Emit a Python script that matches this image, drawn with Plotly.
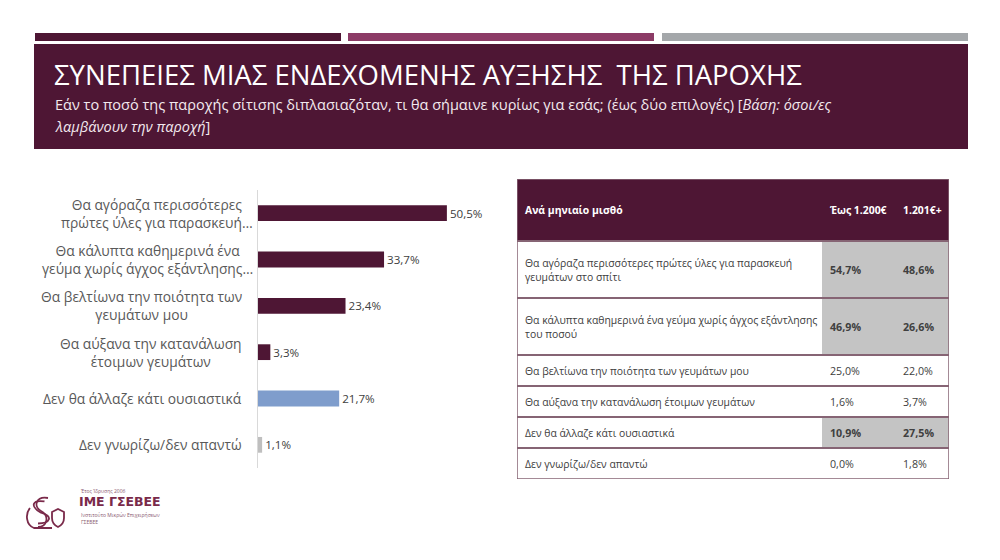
import plotly.graph_objects as go

# bar chart data
categories = [
    "Θα αγόραζα περισσότερες<br>πρώτες ύλες για παρασκευή…",
    "Θα κάλυπτα καθημερινά ένα<br>γεύμα χωρίς άγχος εξάντλησης…",
    "Θα βελτίωνα την ποιότητα των<br>γευμάτων μου",
    "Θα αύξανα την κατανάλωση<br>έτοιμων γευμάτων",
    "Δεν θα άλλαζε κάτι ουσιαστικά",
    "Δεν γνωρίζω/δεν απαντώ",
]
values = [50.5, 33.7, 23.4, 3.3, 21.7, 1.1]
bar_colors = ["#4e1634", "#4e1634", "#4e1634", "#4e1634", "#7f9dcc", "#bfbfbf"]

# table data
table_title = "Ανά μηνιαίο μισθό"
table_cols = ["Έως 1.200€", "1.201€+"]
table_rows = [
    "Θα αγόραζα περισσότερες πρώτες ύλες για παρασκευή<br>γευμάτων στο σπίτι",
    "Θα κάλυπτα καθημερινά ένα γεύμα χωρίς άγχος εξάντλησης<br>του ποσού",
    "Θα βελτίωνα την ποιότητα των γευμάτων μου",
    "Θα αύξανα την κατανάλωση έτοιμων γευμάτων",
    "Δεν θα άλλαζε κάτι ουσιαστικά",
    "Δεν γνωρίζω/δεν απαντώ",
]
upto_1200 = [54.7, 46.9, 25.0, 1.6, 10.9, 0.0]
over_1200 = [48.6, 26.6, 22.0, 3.7, 27.5, 1.8]
highlight = [True, True, False, False, True, False]

title = "ΣΥΝΕΠΕΙΕΣ ΜΙΑΣ ΕΝΔΕΧΟΜΕΝΗΣ ΑΥΞΗΣΗΣ  ΤΗΣ ΠΑΡΟΧΗΣ"
subtitle_lines = [
    "Εάν το ποσό της παροχής σίτισης διπλασιαζόταν, τι θα σήμαινε κυρίως για εσάς; "
    "(έως δύο επιλογές) [<i>Βάση: όσοι/ες</i>",
    "<i>λαμβάνουν την παροχή</i>]",
]

MAROON = "#4e1634"
LOGO = "#7a2a4a"
FONT = "Open Sans"
W, H = 1000, 560


def px(x):
    return x / W


def py(y):
    return 1 - y / H


def fmt(v):
    return f"{v:.1f}".replace(".", ",") + "%"


fig = go.Figure()

fig.add_trace(go.Bar(
    x=values, y=categories, orientation="h",
    marker=dict(color=bar_colors, line=dict(width=0)),
    width=0.34,
    texttemplate="%{x:.1f}%", textposition="outside",
    textfont=dict(family=FONT, size=14, color="#404040"),
    cliponaxis=False, hoverinfo="skip", showlegend=False,
))

# category labels, centred lines like the original text boxes
for cat in categories:
    fig.add_annotation(
        x=0, y=cat, xref="x", yref="y", text=cat, showarrow=False,
        xanchor="right", align="center", xshift=-3 if "…" in cat else -14,
        font=dict(family=FONT, size=13.8, color="#595959"),
    )

# ---- table drawn on its own axes (pixel-like units) ----
header_h = 62
line_h = {1: 31, 2: 57}
row_h = [line_h[r.count("<br>") + 1] for r in table_rows]
col_edges = [0, 305, 378, 432]
total_h = header_h + sum(row_h)
BORDER = "#866474"
TFONT = 10.4

shapes = []
shapes.append(dict(type="rect", xref="x2", yref="y2", x0=col_edges[0], x1=col_edges[-1],
                   y0=0, y1=header_h, fillcolor=MAROON, line=dict(width=0), layer="below"))
fig.add_annotation(x=col_edges[0] + 6, y=header_h / 2, xref="x2", yref="y2", text="<b>" + table_title + "</b>",
                   showarrow=False, xanchor="left", font=dict(family=FONT, size=TFONT, color="white"))
for j, c in enumerate(table_cols):
    fig.add_annotation(x=col_edges[j + 1] + 6, y=header_h / 2, xref="x2", yref="y2", text="<b>" + c + "</b>",
                       showarrow=False, xanchor="left", font=dict(family=FONT, size=TFONT, color="white"))

top = header_h
for i, lab in enumerate(table_rows):
    bot = top + row_h[i]
    mid = (top + bot) / 2
    if highlight[i]:
        shapes.append(dict(type="rect", xref="x2", yref="y2", x0=col_edges[1], x1=col_edges[3],
                           y0=top, y1=bot, fillcolor="#c4c4c4", line=dict(width=0), layer="below"))
    fig.add_annotation(x=col_edges[0] + 6, y=mid, xref="x2", yref="y2", text=lab, showarrow=False,
                       xanchor="left", align="left", font=dict(family=FONT, size=TFONT, color="#404040"))
    for j, v in enumerate([upto_1200[i], over_1200[i]]):
        t = fmt(v)
        if highlight[i]:
            t = "<b>" + t + "</b>"
        fig.add_annotation(x=col_edges[j + 1] + 6, y=mid, xref="x2", yref="y2", text=t, showarrow=False,
                           xanchor="left", font=dict(family=FONT, size=TFONT + 0.3, color="#404040"))
    shapes.append(dict(type="line", xref="x2", yref="y2", x0=col_edges[0], x1=col_edges[-1],
                       y0=top, y1=top, line=dict(color=BORDER, width=1.8)))
    top = bot

# outer border
shapes.append(dict(type="rect", xref="x2", yref="y2", x0=col_edges[0], x1=col_edges[-1],
                   y0=0, y1=total_h, line=dict(color=BORDER, width=1.5)))

# ---- slide decoration ----
for x0, x1, col in [(35, 341, MAROON), (348, 654, "#8c3b66"), (662, 968, "#a4a7aa")]:
    shapes.append(dict(type="rect", xref="paper", yref="paper", x0=px(x0), x1=px(x1),
                       y0=py(41), y1=py(33), fillcolor=col, line=dict(width=0), layer="below"))
shapes.append(dict(type="rect", xref="paper", yref="paper", x0=px(34), x1=px(968),
                   y0=py(149), y1=py(44), fillcolor=MAROON, line=dict(width=0), layer="below"))

fig.add_annotation(x=px(52), y=py(74.5), xref="paper", yref="paper", text=title, showarrow=False,
                   xanchor="left", yanchor="middle", font=dict(family=FONT, size=27.5, color="white"))
for k, line in enumerate(subtitle_lines):
    fig.add_annotation(x=px(53), y=py(104.5 + 22 * k), xref="paper", yref="paper", text=line, showarrow=False,
                       xanchor="left", yanchor="middle", align="left",
                       font=dict(family=FONT, size=14.5, color="#f3e9ee"))


# logo (rough line drawing)
def P(a, b):
    return f"{px(a):.4f},{py(b):.4f}"


for d in (0, 3.5):
    shapes.append(dict(type="path", xref="paper", yref="paper",
                       path=f"M {P(48 - d, 498 + d)} C {P(36 - d, 496 + d)} {P(33 - d, 506)} {P(41, 511 + d / 2)} "
                            f"C {P(50 + d, 516)} {P(47 + d, 527 - d)} {P(38, 527 - d)}",
                       line=dict(color=LOGO, width=1.8)))
shapes.append(dict(type="path", xref="paper", yref="paper",
                   path=f"M {P(30, 508)} C {P(25, 514)} {P(26, 525)} {P(34, 528)} L {P(52, 528)}",
                   line=dict(color=LOGO, width=1.8)))
shapes.append(dict(type="path", xref="paper", yref="paper",
                   path=f"M {P(52, 512)} L {P(58, 509)} L {P(64, 512)} L {P(64, 518)} "
                        f"C {P(64, 523)} {P(60, 526)} {P(58, 527)} C {P(56, 526)} {P(52, 523)} {P(52, 518)} Z",
                   line=dict(color=LOGO, width=1.8)))

fig.add_annotation(x=px(79), y=py(496), xref="paper", yref="paper", text="Έτος Ίδρυσης 2006",
                   showarrow=False, xanchor="left", font=dict(family=FONT, size=5, color="#8a5a70"))
fig.add_annotation(x=px(77), y=py(511), xref="paper", yref="paper", text="<b>ΙΜΕ ΓΣΕΒΕΕ</b>",
                   showarrow=False, xanchor="left", font=dict(family="DejaVu Sans", size=12.5, color=LOGO))
fig.add_annotation(x=px(79), y=py(527), xref="paper", yref="paper",
                   text="Ινστιτούτο Μικρών Επιχειρήσεων<br>ΓΣΕΒΕΕ", align="left",
                   showarrow=False, xanchor="left", font=dict(family=FONT, size=5, color="#8a5a70"))

fig.update_layout(
    width=W, height=H, margin=dict(l=0, r=0, t=0, b=0),
    paper_bgcolor="white", plot_bgcolor="rgba(0,0,0,0)",
    separators=",.", shapes=shapes,
    xaxis=dict(domain=[px(258), px(500)], range=[0, 64.7], visible=False, fixedrange=True),
    yaxis=dict(domain=[py(468), py(190)], autorange="reversed", showticklabels=False, ticks="",
               showgrid=False, zeroline=False, showline=True, linecolor="#d9d9d9", linewidth=1),
    xaxis2=dict(domain=[px(517), px(949)], range=[0, col_edges[-1]], visible=False, anchor="y2"),
    yaxis2=dict(domain=[py(179 + total_h), py(179)], range=[total_h, 0], visible=False, anchor="x2"),
)

# the page body has a default margin; drop it so the slide sits at the window corner
fig.write_html("out.html", config={"displayModeBar": False},
               post_script="document.body.style.margin='0';")
